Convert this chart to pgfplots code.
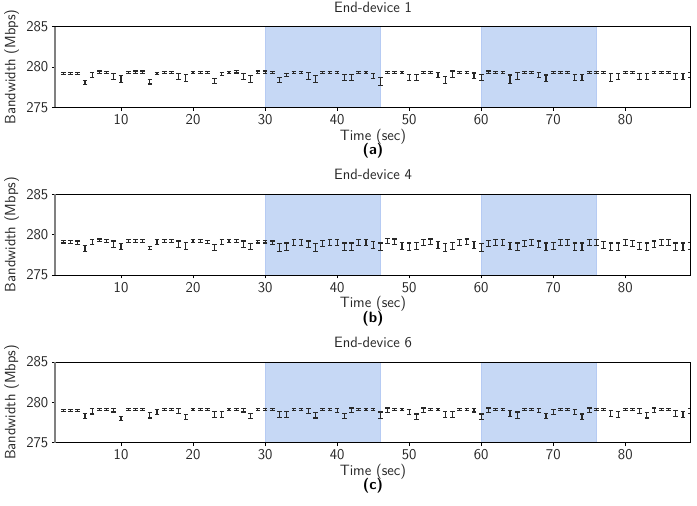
\documentclass[border=0pt]{standalone}
\usepackage{pgfplots}
\pgfplotsset{compat=1.18}
\usepackage{pgfplotstable}
\renewcommand{\familydefault}{\sfdefault}
\definecolor{spanblue}{RGB}{198,216,245}
\definecolor{spanedge}{RGB}{182,203,243}
\definecolor{barcol}{RGB}{40,40,40}

\pgfplotstableread{
x y e
2 279.2 0.15
3 279.2 0.15
4 279.2 0.15
5 278.1 0.25
6 279.0 0.3
7 279.35 0.15
8 279.3 0.15
9 278.8 0.4
10 278.5 0.45
11 279.3 0.15
12 279.35 0.15
13 279.35 0.15
14 278.15 0.25
15 279.2 0.15
16 279.3 0.15
17 279.3 0.15
18 278.8 0.4
19 278.6 0.45
20 279.3 0.15
21 279.3 0.15
22 279.3 0.15
23 278.3 0.3
24 279.1 0.2
25 279.3 0.15
26 279.4 0.15
27 278.8 0.4
28 278.5 0.45
29 279.35 0.15
30 279.35 0.15
31 279.3 0.15
32 278.4 0.3
33 279.0 0.2
34 279.3 0.15
35 279.3 0.15
36 278.9 0.4
37 278.5 0.45
38 279.3 0.15
39 279.3 0.15
40 279.3 0.15
41 278.7 0.4
42 278.7 0.4
43 279.3 0.15
44 279.3 0.15
45 278.9 0.3
46 278.2 0.5
47 279.3 0.15
48 279.3 0.15
49 279.3 0.15
50 278.7 0.4
51 278.7 0.4
52 279.3 0.15
53 279.3 0.15
54 279.0 0.3
55 278.4 0.45
56 279.1 0.4
57 279.3 0.15
58 279.3 0.15
59 278.9 0.35
60 278.7 0.4
61 279.35 0.15
62 279.3 0.15
63 279.3 0.15
64 278.5 0.5
65 278.9 0.4
66 279.3 0.15
67 279.3 0.15
68 279.0 0.3
69 278.6 0.4
70 279.3 0.15
71 279.3 0.15
72 279.3 0.15
73 278.7 0.4
74 278.7 0.4
75 279.3 0.15
76 279.3 0.15
77 279.3 0.15
78 278.7 0.45
79 278.8 0.4
80 279.3 0.15
81 279.3 0.15
82 278.8 0.4
83 278.8 0.4
84 279.3 0.15
85 279.3 0.15
86 279.3 0.15
87 278.8 0.4
88 278.8 0.4
89 279.0 0.3
}\tA

\pgfplotstableread{
x y e
2 279.1 0.15
3 279.1 0.2
4 279.0 0.2
5 278.3 0.35
6 279.1 0.3
7 279.3 0.15
8 279.2 0.15
9 278.8 0.4
10 278.5 0.4
11 279.2 0.15
12 279.2 0.15
13 279.2 0.15
14 278.3 0.2
15 279.1 0.3
16 279.2 0.2
17 279.2 0.2
18 278.8 0.4
19 278.6 0.4
20 279.2 0.2
21 279.2 0.2
22 279.1 0.2
23 278.4 0.4
24 279.1 0.3
25 279.2 0.2
26 279.2 0.2
27 278.8 0.4
28 278.5 0.4
29 279.1 0.15
30 279.1 0.15
31 279.0 0.2
32 278.4 0.45
33 278.5 0.45
34 279.0 0.35
35 279.0 0.35
36 278.8 0.4
37 278.4 0.45
38 278.9 0.35
39 279.0 0.35
40 279.0 0.35
41 278.5 0.45
42 278.5 0.45
43 279.0 0.35
44 279.0 0.35
45 278.7 0.4
46 278.5 0.45
47 279.2 0.35
48 279.1 0.35
49 278.6 0.4
50 278.5 0.45
51 278.6 0.4
52 279.0 0.35
53 279.1 0.35
54 278.7 0.4
55 278.4 0.45
56 278.6 0.4
57 279.0 0.35
58 279.1 0.35
59 278.7 0.4
60 278.4 0.45
61 278.9 0.35
62 279.0 0.35
63 279.0 0.35
64 278.6 0.4
65 278.5 0.45
66 278.9 0.35
67 279.0 0.35
68 278.8 0.4
69 278.5 0.45
70 278.6 0.4
71 279.0 0.35
72 279.0 0.35
73 278.5 0.45
74 278.5 0.45
75 279.0 0.35
76 279.0 0.35
77 278.7 0.4
78 278.5 0.45
79 278.5 0.45
80 279.0 0.35
81 278.9 0.35
82 278.6 0.4
83 278.5 0.45
84 278.8 0.4
85 279.0 0.35
86 279.0 0.35
87 278.5 0.45
88 278.5 0.45
89 278.6 0.4
}\tB

\pgfplotstableread{
x y e
2 279.0 0.15
3 279.0 0.15
4 279.0 0.15
5 278.3 0.35
6 278.9 0.35
7 279.1 0.15
8 279.1 0.15
9 279.0 0.2
10 278.0 0.25
11 279.1 0.15
12 279.1 0.15
13 279.1 0.15
14 278.4 0.35
15 278.8 0.35
16 279.1 0.15
17 279.1 0.15
18 278.9 0.3
19 278.2 0.3
20 279.1 0.15
21 279.1 0.15
22 279.1 0.15
23 278.5 0.4
24 278.5 0.4
25 279.1 0.15
26 279.1 0.15
27 279.0 0.2
28 278.3 0.3
29 279.1 0.15
30 279.1 0.15
31 279.1 0.15
32 278.5 0.4
33 278.5 0.4
34 279.1 0.15
35 279.1 0.15
36 278.9 0.3
37 278.4 0.35
38 279.1 0.15
39 279.1 0.15
40 279.0 0.25
41 278.3 0.35
42 279.0 0.3
43 279.1 0.15
44 279.1 0.15
45 279.1 0.15
46 278.4 0.4
47 279.0 0.3
48 279.1 0.15
49 279.1 0.15
50 278.8 0.35
51 278.2 0.35
52 279.0 0.3
53 279.1 0.15
54 279.1 0.15
55 278.5 0.4
56 278.5 0.4
57 279.1 0.15
58 279.1 0.15
59 279.0 0.2
60 278.2 0.35
61 279.0 0.3
62 279.1 0.15
63 279.1 0.15
64 278.6 0.4
65 278.4 0.4
66 279.1 0.15
67 279.1 0.15
68 279.0 0.25
69 278.3 0.35
70 278.8 0.35
71 279.1 0.15
72 279.1 0.15
73 278.8 0.35
74 278.2 0.35
75 279.0 0.3
76 279.1 0.15
77 279.1 0.15
78 278.6 0.4
79 278.5 0.4
80 279.1 0.15
81 279.1 0.15
82 278.9 0.3
83 278.4 0.35
84 279.0 0.3
85 279.1 0.15
86 279.1 0.15
87 278.6 0.4
88 278.5 0.4
89 278.9 0.3
}\tC

\pgfplotsset{
  panel/.style={
    scale only axis, width=635.4bp, height=80.6bp,
    anchor=north west,
    xmin=0.88, xmax=89.08, ymin=275, ymax=285,
    xtick={10,20,...,80}, ytick={275,280,285},
    tick align=outside, xtick pos=bottom, ytick pos=left,
    major tick length=3.5bp,
    tick style={black, line width=0.8bp},
    axis line style={black, line width=0.8bp},
    axis on top=true,
    /pgf/number format/assume math mode=true,
    ticklabel style={font=\fontsize{15}{18}\selectfont, text=black!85},
    label style={font=\fontsize{15}{18}\selectfont, text=black!85},
    title style={font=\fontsize{15}{18}\selectfont, text=black!85, at={(0.5,1.1042)}, anchor=base},
    xlabel style={at={(0.5,-0.4094)}, anchor=base},
    ylabel style={at={(-0.0630,0.5)}, anchor=base},
    xlabel={Time (sec)},
    ylabel={Bandwidth (Mbps)},
  },
  ebar/.style={draw=none, mark=none,
    error bars/.cd, y dir=both, y explicit,
    error bar style={draw=barcol, line width=1.15bp, solid},
    error mark options={rotate=90, draw=barcol, mark size=2.3bp, line width=1.15bp}},
  span/.style={fill=spanblue, draw=spanedge, line width=0.8bp},
}

\newcommand{\panelextras}[1]{%
  \draw[gray, line width=1.6bp] (rel axis cs:0,0) -- (rel axis cs:0,1);
  \node[anchor=base, font=\fontsize{15}{18}\selectfont\bfseries] at (rel axis cs:0.5,-0.585) {#1};%
}

\begin{document}
\begin{tikzpicture}
\path[use as bounding box] (0,0) rectangle (697bp,-506bp);

\begin{axis}[panel, at={(55.3bp,-26.7bp)}, title={End-device 1},
  after end axis/.code={\panelextras{(a)}}]
\addplot[span] coordinates {(30,275) (30,285) (46,285) (46,275)} -- cycle;
\addplot[span] coordinates {(60,275) (60,285) (76,285) (76,275)} -- cycle;
\addplot[ebar] table[x=x, y=y, y error=e] {\tA};
\end{axis}

\begin{axis}[panel, at={(55.3bp,-194.3bp)}, title={End-device 4},
  after end axis/.code={\panelextras{(b)}}]
\addplot[span] coordinates {(30,275) (30,285) (46,285) (46,275)} -- cycle;
\addplot[span] coordinates {(60,275) (60,285) (76,285) (76,275)} -- cycle;
\addplot[ebar] table[x=x, y=y, y error=e] {\tB};
\end{axis}

\begin{axis}[panel, at={(55.3bp,-362bp)}, title={End-device 6},
  after end axis/.code={\panelextras{(c)}}]
\addplot[span] coordinates {(30,275) (30,285) (46,285) (46,275)} -- cycle;
\addplot[span] coordinates {(60,275) (60,285) (76,285) (76,275)} -- cycle;
\addplot[ebar] table[x=x, y=y, y error=e] {\tC};
\end{axis}
\end{tikzpicture}
\end{document}
